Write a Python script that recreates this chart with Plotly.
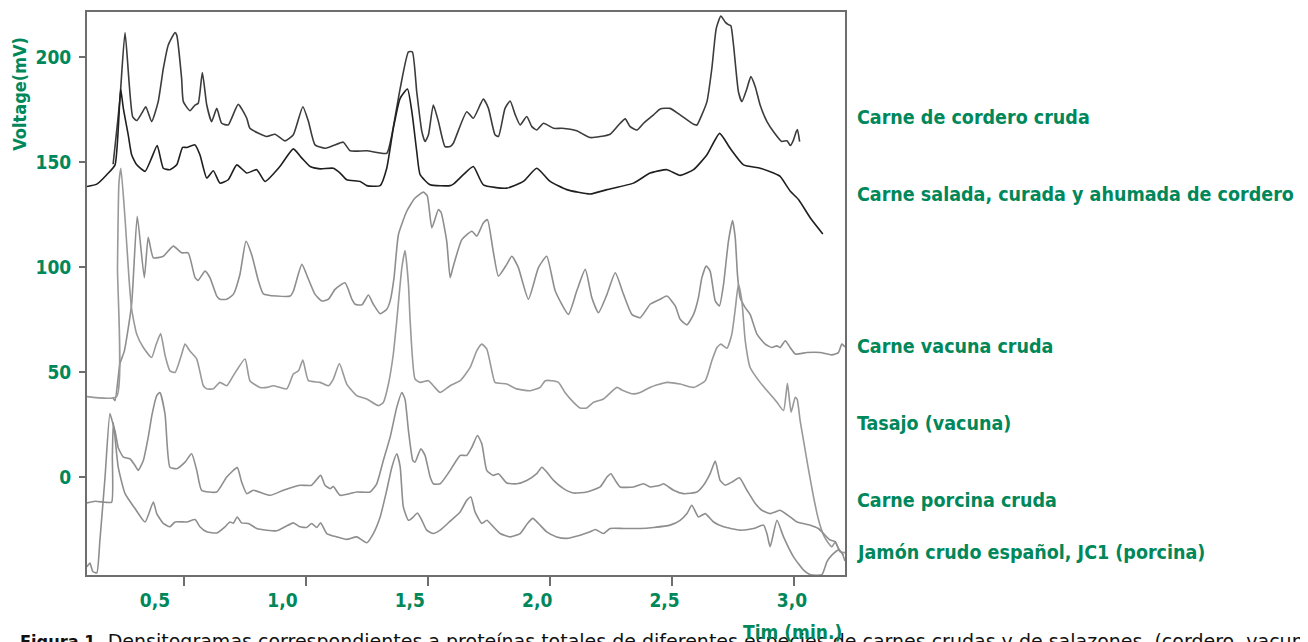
import plotly.graph_objects as go

# ---- data (minutes, mV) ----
cordero = [(0.208,149),(0.236,180),(0.257,211.7),(0.288,171.7),(0.305,169.8),(0.325,173.2),(0.342,176.4),(0.366,169.3),(0.393,178.8),(0.414,194.6),(0.434,205.7),(0.462,211.7),(0.469,210.5),(0.489,189.8),(0.496,178.8),(0.523,174.5),(0.544,177.2),(0.557,178),(0.574,192.7),(0.592,177.2),(0.612,169.3),(0.633,175.6),(0.653,168.5),(0.680,167.7),(0.721,177.5),(0.756,170.9),(0.769,166.1),(0.838,162.2),(0.872,163.3),(0.913,160.1),(0.947,163),(0.986,176.4),(1.009,169.3),(1.036,158.2),(1.077,156.6),(1.111,157.9),(1.152,159.5),(1.180,155.4),(1.248,155.4),(1.330,154.2),(1.351,163),(1.385,185),(1.419,202.5),(1.435,202.5),(1.453,183.5),(1.474,164.5),(1.487,159.8),(1.501,163),(1.521,177.2),(1.542,169.3),(1.569,157.4),(1.590,157.4),(1.603,159),(1.658,174),(1.685,170.9),(1.726,180),(1.747,175.6),(1.774,163),(1.788,162.2),(1.815,175.6),(1.836,179.1),(1.857,172.5),(1.877,167.7),(1.904,171.7),(1.925,166.9),(1.945,165.3),(1.973,168.5),(2.014,166.1),(2.048,166.1),(2.109,164.9),(2.164,161.7),(2.246,163.3),(2.287,168.5),(2.308,170.6),(2.328,166.9),(2.356,165.3),(2.383,168.5),(2.424,172.5),(2.451,175.3),(2.492,175.6),(2.533,172.5),(2.588,168),(2.602,167.7),(2.622,172.5),(2.643,178.8),(2.663,194.6),(2.681,213.6),(2.700,219.6),(2.718,216.7),(2.731,215.5),(2.741,215),(2.752,205.7),(2.772,183.5),(2.786,178.8),(2.807,185.1),(2.823,190.7),(2.841,185.9),(2.861,177.2),(2.889,169.3),(2.916,164.5),(2.950,159.8),(2.971,160.2),(2.985,157.9),(2.998,160.6),(3.009,164.5),(3.014,165.5),(3.023,159.8)]

salada = [(0.101,138.4),(0.141,139.5),(0.182,144),(0.216,148.7),(0.239,184.8),(0.250,175.6),(0.270,163),(0.284,153.5),(0.305,148.7),(0.339,145.6),(0.366,152),(0.389,157.9),(0.414,147.1),(0.441,146.4),(0.469,148.7),(0.493,157),(0.510,157),(0.544,158.2),(0.564,153.5),(0.592,142.4),(0.619,145.9),(0.646,140),(0.680,141.6),(0.715,148.7),(0.756,144.8),(0.797,146.4),(0.831,140.8),(0.892,147.9),(0.947,156.3),(0.982,151.9),(1.016,147.9),(1.057,146.8),(1.111,147.1),(1.139,144.8),(1.166,141.6),(1.221,140.8),(1.248,138.8),(1.303,138.8),(1.330,147.1),(1.357,166.1),(1.385,180.4),(1.415,184.8),(1.433,174),(1.453,155.1),(1.467,144),(1.508,139.2),(1.590,138.8),(1.603,139.5),(1.644,144),(1.685,147.9),(1.726,139.2),(1.822,137.6),(1.890,140.8),(1.945,147.1),(2.000,140.8),(2.068,136.9),(2.164,134.8),(2.233,136.9),(2.342,140),(2.410,144.8),(2.479,146.4),(2.533,143.7),(2.588,146.4),(2.643,153.5),(2.695,163.7),(2.738,156.6),(2.793,148.7),(2.861,147.1),(2.916,144.8),(2.943,143.2),(2.985,136.1),(3.019,132.1),(3.067,123.4),(3.118,115.8)]

vacuna = [(0.208,37.5),(0.216,36.4),(0.236,54),(0.254,60),(0.284,82.3),(0.307,124.2),(0.336,95),(0.352,114.2),(0.373,104.4),(0.414,105.2),(0.455,110),(0.489,106.8),(0.516,106.8),(0.544,95),(0.557,93.7),(0.585,98.1),(0.605,95),(0.633,86.2),(0.646,84.7),(0.674,84.7),(0.701,87),(0.728,96.5),(0.753,112.3),(0.776,106),(0.804,93.4),(0.824,87.3),(0.879,86.2),(0.934,86.2),(0.947,88.5),(0.982,101.3),(1.009,94.2),(1.036,87),(1.064,83.9),(1.091,84.7),(1.118,89.4),(1.159,92.5),(1.187,84.7),(1.200,82.3),(1.228,82),(1.255,86.7),(1.275,82.3),(1.303,77.8),(1.330,79.9),(1.344,83.9),(1.360,95),(1.378,115.5),(1.412,126.6),(1.446,132.9),(1.480,135.7),(1.496,134),(1.515,118.7),(1.542,127.4),(1.553,126),(1.576,112.3),(1.590,95),(1.602,100),(1.638,113.1),(1.679,117.1),(1.699,114.7),(1.726,121),(1.743,122.6),(1.766,108),(1.788,95.7),(1.822,101.3),(1.843,105.2),(1.869,100),(1.911,84.7),(1.952,99.7),(1.986,105.2),(2.021,88.6),(2.075,77.5),(2.109,88.6),(2.144,98.9),(2.171,85.4),(2.198,78.3),(2.233,87),(2.267,97.3),(2.301,87),(2.335,77.5),(2.369,75.9),(2.410,82.3),(2.451,84.7),(2.479,86.2),(2.513,81.5),(2.533,75.2),(2.561,72.5),(2.588,77.5),(2.608,85.4),(2.622,94.9),(2.640,100.5),(2.656,98.1),(2.677,83.9),(2.694,81.5),(2.711,91.8),(2.731,112.3),(2.748,122.2),(2.759,113.9),(2.768,96.5),(2.779,85.4),(2.800,80.7),(2.820,77.5),(2.848,68.1),(2.882,63.3),(2.909,61.7),(2.930,62.5),(2.943,61.7),(2.964,64.9),(2.984,61.7),(3.005,58.6),(3.053,59.3),(3.107,59.3),(3.155,58.2),(3.182,59.3),(3.196,63.3),(3.209,62)]

tasajo = [(0.101,38.3),(0.222,38.3),(0.226,100),(0.232,140),(0.240,147),(0.257,123),(0.273,95),(0.284,80),(0.305,68),(0.332,61.7),(0.366,57),(0.384,63),(0.403,68.3),(0.421,58),(0.441,50.6),(0.462,49.8),(0.489,58.5),(0.503,63.3),(0.523,60),(0.551,56.2),(0.578,43.5),(0.592,42),(0.619,42),(0.646,45.1),(0.674,43.5),(0.701,48.3),(0.749,56.2),(0.769,45.9),(0.810,42.7),(0.839,42.7),(0.865,43.5),(0.920,42),(0.947,49.1),(0.968,50.6),(0.986,55.7),(1.009,45.9),(1.057,45.1),(1.091,43.5),(1.111,46.7),(1.136,54.1),(1.166,44.3),(1.207,38.8),(1.248,37.2),(1.296,34),(1.316,35.5),(1.337,44.3),(1.357,58.6),(1.371,74.4),(1.392,99.7),(1.405,107.9),(1.419,91.8),(1.426,74.4),(1.446,46.7),(1.467,45.1),(1.501,45.9),(1.521,43.5),(1.549,40.3),(1.590,43.5),(1.631,45.9),(1.672,52.2),(1.699,60.1),(1.720,63.3),(1.740,61),(1.761,50.6),(1.774,45.1),(1.822,44.3),(1.863,42),(1.918,41.1),(1.959,42.7),(1.980,45.9),(2.007,45.9),(2.034,45.1),(2.061,40.3),(2.096,35.6),(2.123,32.9),(2.150,32.9),(2.178,35.6),(2.219,37.2),(2.274,42.7),(2.294,41.5),(2.342,39.6),(2.369,40.3),(2.410,42.7),(2.479,45.1),(2.533,44.3),(2.588,42.7),(2.636,45.9),(2.663,55.4),(2.684,61.7),(2.700,63.3),(2.725,61.4),(2.745,68.1),(2.759,80),(2.772,91.8),(2.786,83.9),(2.800,64.9),(2.820,52.2),(2.861,45.1),(2.896,40.3),(2.930,35.6),(2.957,31.7),(2.973,44.6),(2.988,30.9),(3.005,38),(3.013,37),(3.025,26.9),(3.039,17.4),(3.060,3.2),(3.080,-9.5),(3.101,-20.6),(3.121,-27.7),(3.142,-31.6),(3.155,-33.2),(3.169,-31),(3.189,-35.6),(3.210,-36)]

porcina = [(0.101,-42.7),(0.113,-41),(0.125,-45),(0.141,-45.7),(0.154,-30),(0.175,0),(0.195,30.2),(0.208,25),(0.216,22),(0.229,14),(0.250,9.5),(0.277,8.7),(0.298,5.5),(0.311,3.2),(0.332,7.9),(0.352,19),(0.368,30),(0.387,38.8),(0.400,40.3),(0.421,30),(0.441,4.7),(0.469,4),(0.503,7.1),(0.530,11.1),(0.551,3.2),(0.571,-6.3),(0.633,-7.1),(0.674,0),(0.717,4.5),(0.735,-2.4),(0.756,-7.9),(0.783,-6.3),(0.852,-8.7),(0.906,-6.3),(0.974,-3.9),(1.022,-3.9),(1.059,0.8),(1.077,-3.9),(1.098,-5.5),(1.111,-4.5),(1.139,-8.7),(1.207,-7.1),(1.262,-7.1),(1.289,-3.2),(1.316,7.9),(1.344,19),(1.371,33.2),(1.392,40.3),(1.405,37),(1.419,22.2),(1.437,7.9),(1.446,7.1),(1.470,13.5),(1.487,10.3),(1.508,0),(1.521,-3.2),(1.549,-3.2),(1.590,3.2),(1.631,10.3),(1.658,10.3),(1.679,14.2),(1.702,19.8),(1.720,15.8),(1.740,3.2),(1.767,0.8),(1.788,1.6),(1.822,-2.8),(1.863,-3.2),(1.904,-1.6),(1.945,1.6),(1.966,4.7),(1.986,2.4),(2.014,-1.6),(2.055,-5.5),(2.096,-7.6),(2.150,-7.1),(2.205,-4.7),(2.233,0),(2.249,1.6),(2.267,-1.6),(2.287,-4.7),(2.342,-4.7),(2.383,-3.2),(2.410,-4.7),(2.451,-3.9),(2.465,-3.2),(2.506,-6.3),(2.547,-7.9),(2.602,-7.1),(2.629,-3.9),(2.656,1.6),(2.677,7.6),(2.697,-1.6),(2.718,-3.9),(2.745,-2.4),(2.776,-0.3),(2.807,-6.3),(2.841,-12.6),(2.868,-15.8),(2.902,-17.4),(2.923,-16.6),(2.943,-15.8),(2.984,-19),(3.012,-21.4),(3.067,-22.9),(3.100,-24.5),(3.121,-26.9),(3.148,-30),(3.169,-30.7),(3.182,-34),(3.203,-37.2)]

jamon = [(0.101,-12.3),(0.134,-11.5),(0.175,-12),(0.202,-12),(0.205,10),(0.209,26),(0.229,4.7),(0.257,-7.9),(0.298,-15),(0.339,-21.4),(0.373,-11.9),(0.387,-17.4),(0.414,-22.1),(0.441,-23.7),(0.462,-21.4),(0.510,-21.4),(0.544,-20.2),(0.564,-23.7),(0.592,-26.1),(0.633,-26.6),(0.667,-23.7),(0.687,-21.4),(0.701,-22),(0.717,-19),(0.735,-21.8),(0.763,-22.1),(0.797,-24.5),(0.838,-25.3),(0.879,-25.6),(0.913,-23.7),(0.947,-21.8),(0.974,-23.7),(1.002,-24),(1.022,-22.1),(1.043,-24),(1.059,-21.8),(1.084,-26.9),(1.125,-28.5),(1.166,-29.7),(1.207,-28.5),(1.248,-31.3),(1.275,-26.9),(1.303,-19),(1.330,-6.3),(1.351,4.7),(1.371,11.1),(1.385,5),(1.398,-14.2),(1.419,-20.6),(1.439,-19),(1.456,-17.1),(1.474,-20.6),(1.494,-25.3),(1.521,-26.9),(1.549,-25.3),(1.590,-21),(1.631,-16.6),(1.658,-11.1),(1.675,-9.5),(1.692,-16.6),(1.720,-22.1),(1.740,-20.6),(1.761,-22.9),(1.795,-26.9),(1.836,-28.5),(1.877,-26.9),(1.907,-22.1),(1.929,-19.7),(1.952,-22.1),(1.986,-26.1),(2.027,-28.5),(2.068,-29.2),(2.123,-27.7),(2.164,-26.1),(2.185,-25),(2.219,-26.9),(2.246,-24.5),(2.301,-24.5),(2.369,-24.5),(2.424,-24),(2.492,-22.9),(2.533,-20.6),(2.561,-17.4),(2.581,-13.4),(2.608,-19),(2.636,-17.4),(2.670,-21.4),(2.711,-23.7),(2.779,-25.3),(2.834,-24.5),(2.875,-22.9),(2.889,-27),(2.902,-33.2),(2.930,-20.6),(2.957,-28.5),(2.998,-38),(3.039,-44.3),(3.067,-46.5),(3.114,-46.5),(3.135,-40.3),(3.155,-37.2),(3.182,-34.8),(3.196,-36),(3.209,-40)]

series_names = ["Carne de cordero cruda", "Carne salada, curada y ahumada de cordero",
                "Carne vacuna cruda", "Tasajo (vacuna)", "Carne porcina cruda",
                "Jamón crudo español, JC1 (porcina)"]
series_data = [cordero, salada, vacuna, tasajo, porcina, jamon]
series_colors = ["#3c3c3c", "#1f1f1f", "#8e8e8e", "#999999", "#8e8e8e", "#8e8e8e"]
label_y_px = [116, 193, 346, 423, 500, 552]

x_tick_vals = [0.5, 1.0, 1.5, 2.0, 2.5, 3.0]
x_tick_text = ["0,5", "1,0", "1,5", "2,0", "2,5", "3,0"]
y_tick_vals = [0, 50, 100, 150, 200]
y_tick_text = ["0", "50", "100", "150", "200"]

GREEN = "#00875a"
FONT = "DejaVu Sans Condensed, DejaVu Sans, sans-serif"
CAPTION_FONT = "DejaVu Sans, sans-serif"

OFF = 8  # default page margin of the html body
W, H = 1308, 642
# plot frame in screen pixels
SL, SR, ST, SB = 87, 845, 10, 575
L, R, T, B = SL - OFF, SR - OFF, ST - OFF, SB - OFF

fig = go.Figure()
for name, data, col in zip(series_names, series_data, series_colors):
    fig.add_trace(go.Scatter(x=[p[0] for p in data], y=[p[1] for p in data], mode="lines",
                             name=name, line=dict(color=col, width=1.6, shape="spline", smoothing=0.5),
                             showlegend=False, hoverinfo="skip"))
# helper trace so the label axis exists
fig.add_trace(go.Scatter(x=[None], y=[None], xaxis="x2", showlegend=False, hoverinfo="skip"))

fig.update_layout(
    width=W, height=H, autosize=False,
    margin=dict(l=L, r=W - R, t=T, b=H - B, pad=0),
    paper_bgcolor="white", plot_bgcolor="white",
    font=dict(family=FONT, color=GREEN),
    xaxis=dict(range=[0.101, 3.209], tickvals=x_tick_vals, showticklabels=False,
               ticks="outside", ticklen=9, tickwidth=1.5, tickcolor="#6e6e6e",
               showline=True, linecolor="#6e6e6e", linewidth=2, mirror=True,
               showgrid=False, zeroline=False),
    xaxis2=dict(range=[0.2331, 3.208], overlaying="x", side="bottom", anchor="y",
                tickvals=x_tick_vals, ticktext=x_tick_text, ticks="", showline=False,
                showgrid=False, zeroline=False, ticklabelstandoff=12,
                tickfont=dict(family=FONT, size=19, color=GREEN, weight="bold")),
    yaxis=dict(range=[-46.65, 221.5], tickvals=y_tick_vals, ticktext=y_tick_text,
               ticks="outside", ticklen=6, tickwidth=1.5, tickcolor="#6e6e6e",
               showline=True, linecolor="#6e6e6e", linewidth=2, mirror=True,
               showgrid=False, zeroline=False, ticklabelstandoff=4,
               tickfont=dict(family=FONT, size=19, color=GREEN, weight="bold")),
)

def px_x(px):
    return (px - SL) / (SR - SL)

def px_y(py):
    return (SB - py) / (SB - ST)

for name, py in zip(series_names, label_y_px):
    fig.add_annotation(x=px_x(855), y=px_y(py), xref="paper", yref="paper", text=name,
                       showarrow=False, xanchor="left", yanchor="middle",
                       font=dict(family=FONT, size=19.5, color=GREEN, weight="bold"))

fig.add_annotation(x=px_x(20), y=px_y(92), xref="paper", yref="paper", text="Voltage(mV)",
                   textangle=-90, showarrow=False, xanchor="center", yanchor="middle",
                   font=dict(family=FONT, size=18, color=GREEN, weight="bold"))

fig.add_annotation(x=px_x(18), y=px_y(628), xref="paper", yref="paper",
                   text="<span style=\"font-family:'DejaVu Sans Condensed', 'DejaVu Sans'; font-weight:bold; font-size:18px\">Figura 1.</span> Densitogramas correspondientes a proteínas totales de diferentes especies de carnes crudas y de salazones. (cordero, vacuno,",
                   showarrow=False, xanchor="left", yanchor="top",
                   font=dict(family=CAPTION_FONT, size=19, color="#111111"))

fig.add_annotation(x=px_x(792), y=px_y(632), xref="paper", yref="paper", text="Tim (min.)",
                   showarrow=False, xanchor="center", yanchor="middle", bgcolor="rgba(0,0,0,0)",
                   font=dict(family=FONT, size=19, color=GREEN, weight="bold"))

fig.write_html("out.html")
